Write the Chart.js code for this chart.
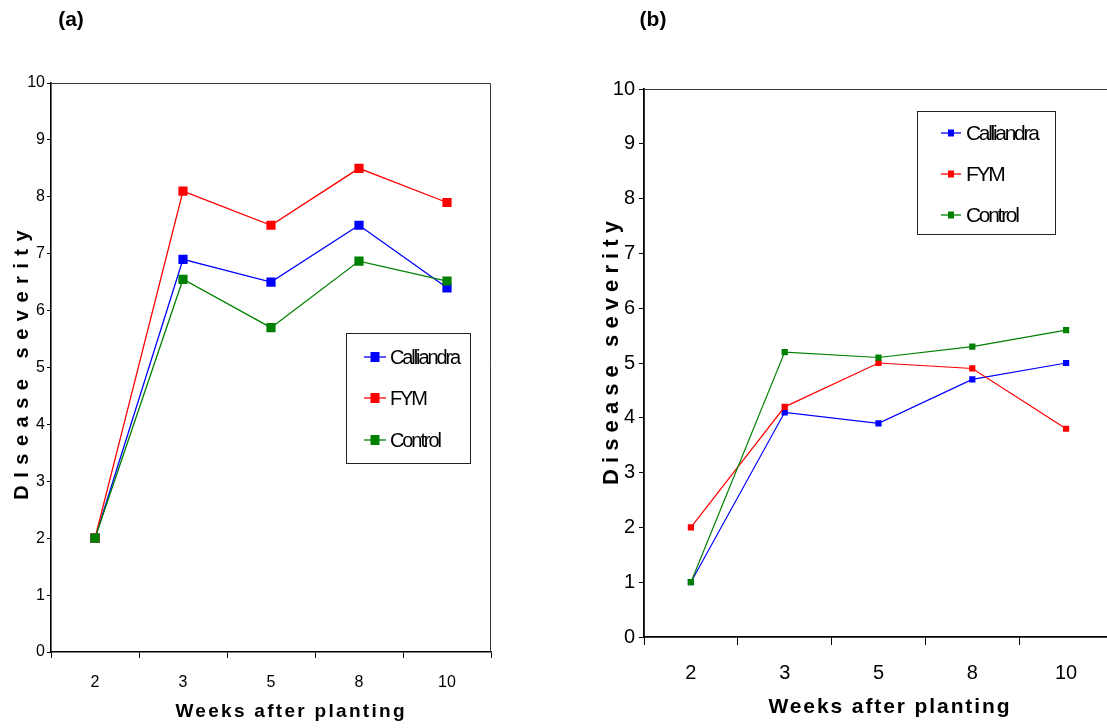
<!DOCTYPE html>
<html>
<head>
<meta charset="utf-8">
<script src="https://cdn.jsdelivr.net/npm/chart.js@4.4.1/dist/chart.umd.min.js"></script>
<style>
html,body{margin:0;padding:0;background:#fff;overflow:hidden;width:1107px;height:728px;}
#wa{position:absolute;left:0;top:0;width:553px;height:728px;}
#wb{position:absolute;left:553px;top:0;width:600px;height:728px;}
</style>
</head>
<body>
<div id="wa"><canvas id="ca"></canvas></div>
<div id="wb"><canvas id="cb"></canvas></div>
<script>
// ---- data ----
const categories = ['2', '3', '5', '8', '10'];
const seriesNames = ['Calliandra', 'FYM', 'Control'];
const seriesColors = ['#0000FF', '#FF0000', '#008000'];

const panelACalliandra = [2, 6.9, 6.5, 7.5, 6.4];
const panelAFYM        = [2, 8.1, 7.5, 8.5, 7.9];
const panelAControl    = [2, 6.55, 5.7, 6.87, 6.52];

const panelBCalliandra = [1, 4.1, 3.9, 4.7, 5.0];
const panelBFYM        = [2, 4.2, 5.0, 4.9, 3.8];
const panelBControl    = [1, 5.2, 5.1, 5.3, 5.6];

const yTickValues = [0, 1, 2, 3, 4, 5, 6, 7, 8, 9, 10];
const panelTitles = ['(a)', '(b)'];
const xAxisTitle = 'Weeks after planting';
const yAxisTitles = ['DIsease severity', 'Disease severity'];

const FAMILY = '"Liberation Sans", Arial, Helvetica, sans-serif';

function spacedText(ctx, text, cx, cy, font, spacing, rotate) {
  ctx.save();
  ctx.font = font;
  ctx.letterSpacing = '0px';
  const w0 = ctx.measureText(text).width;
  const total = w0 + spacing * (text.length - 1);
  ctx.letterSpacing = spacing + 'px';
  ctx.fillStyle = '#000';
  ctx.textBaseline = 'alphabetic';
  ctx.textAlign = 'left';
  ctx.translate(cx, cy);
  if (rotate) ctx.rotate(-Math.PI / 2);
  ctx.fillText(text, -total / 2, 0);
  ctx.restore();
}

function decorPlugin(cfg) {
  return {
    id: 'decor' + cfg.idx,
    afterDraw(chart) {
      const ctx = chart.ctx;
      const a = chart.chartArea;
      ctx.save();
      // plot frame (top + right)
      ctx.strokeStyle = '#3a3a3a';
      ctx.lineWidth = 1;
      ctx.beginPath();
      ctx.moveTo(a.left, a.top + 0.5);
      ctx.lineTo(a.right - 0.5, a.top + 0.5);
      ctx.lineTo(a.right - 0.5, a.bottom);
      ctx.stroke();
      ctx.restore();

      // panel title
      ctx.save();
      ctx.font = 'bold ' + cfg.panelFont + 'px ' + FAMILY;
      ctx.fillStyle = '#000';
      ctx.textAlign = 'center';
      ctx.textBaseline = 'middle';
      ctx.fillText(panelTitles[cfg.idx], cfg.panelX, cfg.panelY);
      ctx.restore();

      // axis titles
      spacedText(ctx, xAxisTitle, cfg.xtX, cfg.xtY, 'bold ' + cfg.xtFont + 'px ' + FAMILY, cfg.xtSpacing, false);
      spacedText(ctx, yAxisTitles[cfg.idx], cfg.ytX, cfg.ytY, 'bold ' + cfg.ytFont + 'px ' + FAMILY, cfg.ytSpacing, true);

      // legend
      const L = cfg.legend;
      ctx.save();
      ctx.fillStyle = '#fff';
      ctx.fillRect(L.x0, L.y0, L.x1 - L.x0, L.y1 - L.y0);
      ctx.strokeStyle = '#222';
      ctx.lineWidth = 1;
      ctx.strokeRect(L.x0 + 0.5, L.y0 + 0.5, L.x1 - L.x0 - 1, L.y1 - L.y0 - 1);
      seriesNames.forEach((name, i) => {
        const y = L.rows[i];
        ctx.strokeStyle = seriesColors[i];
        ctx.lineWidth = 1.3;
        ctx.beginPath();
        ctx.moveTo(L.lineX0, y);
        ctx.lineTo(L.lineX1, y);
        ctx.stroke();
        ctx.fillStyle = seriesColors[i];
        ctx.fillRect(L.markX - L.markW / 2, y - L.markH / 2, L.markW, L.markH);
        ctx.fillStyle = '#000';
        ctx.font = L.font + 'px ' + FAMILY;
        ctx.letterSpacing = L.spacing + 'px';
        ctx.textAlign = 'left';
        ctx.textBaseline = 'middle';
        ctx.fillText(name, L.textX, y + 1);
        ctx.letterSpacing = '0px';
      });
      ctx.restore();
    }
  };
}

function makeChart(id, series, cfg) {
  return new Chart(document.getElementById(id), {
    type: 'line',
    data: {
      labels: categories,
      datasets: series.map((vals, i) => ({
        label: seriesNames[i],
        data: vals,
        borderColor: seriesColors[i],
        backgroundColor: seriesColors[i],
        borderWidth: cfg.lineWidth,
        pointStyle: 'rect',
        pointRadius: cfg.pointRadius,
        pointHoverRadius: cfg.pointRadius,
        pointBorderWidth: 0,
        tension: 0,
        order: 2 - i
      }))
    },
    options: {
      responsive: true,
      maintainAspectRatio: false,
      animation: false,
      events: [],
      layout: { padding: { top: cfg.top, right: cfg.right, left: 0, bottom: 0 } },
      plugins: { legend: { display: false }, tooltip: { enabled: false }, title: { display: false } },
      scales: {
        x: {
          type: 'category',
          offset: true,
          grid: { display: true, drawOnChartArea: false, drawTicks: true, tickLength: cfg.xTickLen, color: '#000', lineWidth: 1, offset: true },
          border: { display: true, color: '#000', width: cfg.axisWidth },
          ticks: { color: '#000', font: { family: FAMILY, size: cfg.tickFont }, padding: cfg.xPad, maxRotation: 0, autoSkip: false },
          afterFit: s => { s.height = cfg.xHeight; }
        },
        y: {
          min: 0,
          max: 10,
          afterBuildTicks: s => { s.ticks = yTickValues.map(v => ({ value: v })); },
          grid: { display: true, drawOnChartArea: false, drawTicks: true, tickLength: cfg.yTickLen, color: '#000', lineWidth: 1 },
          border: { display: true, color: '#000', width: cfg.axisWidth },
          ticks: { color: '#000', font: { family: FAMILY, size: cfg.tickFont }, padding: cfg.yPad },
          afterFit: s => { s.width = cfg.yWidth; }
        }
      }
    },
    plugins: [decorPlugin(cfg)]
  });
}

makeChart('ca', [panelACalliandra, panelAFYM, panelAControl], {
  idx: 0, top: 83, right: 62, yWidth: 51, xHeight: 76,
  lineWidth: 1.3, pointRadius: 6.5, axisWidth: 1.6,
  xTickLen: 6, yTickLen: 4, xPad: 15, yPad: 2, tickFont: 16,
  panelFont: 21, panelX: 71, panelY: 20,
  xtX: 290, xtY: 717, xtFont: 19, xtSpacing: 2.3,
  ytX: 28, ytY: 365, ytFont: 20, ytSpacing: 7.5,
  legend: { x0: 346, y0: 333, x1: 471, y1: 464, rows: [357, 398, 440],
            lineX0: 364, lineX1: 386, markX: 375, markW: 9, markH: 10, textX: 390, font: 20, spacing: -2.1 }
});

makeChart('cb', [panelBCalliandra, panelBFYM, panelBControl], {
  idx: 1, top: 89, right: 40, yWidth: 91, xHeight: 91,
  lineWidth: 1.2, pointRadius: 4.4, axisWidth: 1.8,
  xTickLen: 8, yTickLen: 5, xPad: 16, yPad: 4, tickFont: 20,
  panelFont: 21, panelX: 100, panelY: 20,
  xtX: 336, xtY: 713, xtFont: 21, xtSpacing: 1.9,
  ytX: 65, ytY: 353, ytFont: 22, ytSpacing: 6.1,
  legend: { x0: 364, y0: 111, x1: 503, y1: 235, rows: [133, 174, 215],
            lineX0: 388, lineX1: 408, markX: 398, markW: 6, markH: 7, textX: 413, font: 21, spacing: -2.3 }
});
</script>
</body>
</html>
